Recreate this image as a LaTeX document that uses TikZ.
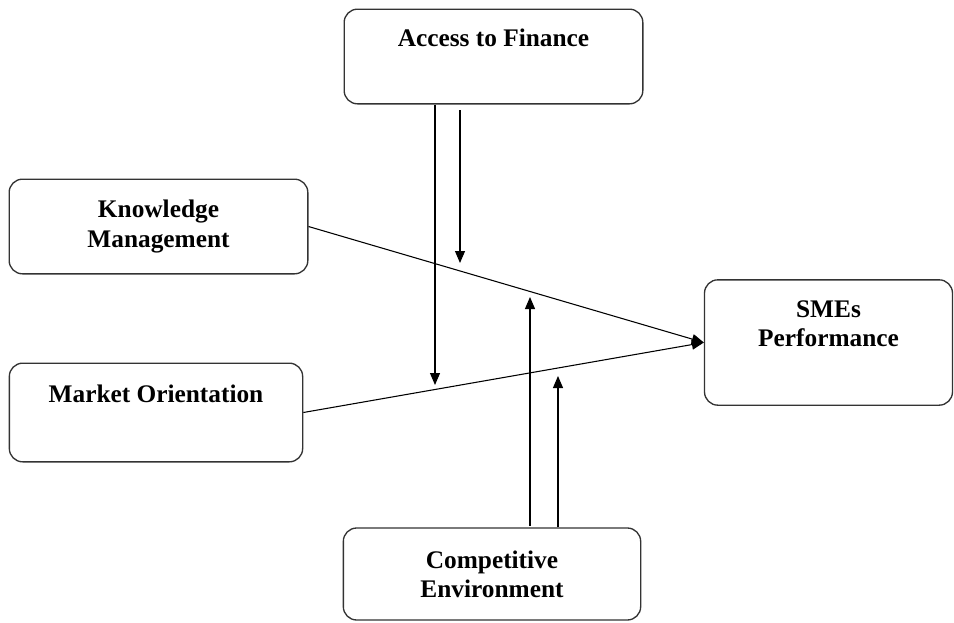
\documentclass[tikz,border=0pt]{standalone}
\usepackage{fontspec}
\setmainfont{Liberation Serif}
\usepackage{tikz}
\usetikzlibrary{arrows.meta}

\tikzset{
  box/.style={draw=black!80, line width=1pt, rounded corners=10pt, align=center,
    font=\fontsize{19}{22}\selectfont\bfseries, inner sep=0pt},
  link/.style={line width=0.8pt, -{Triangle[width=7.5pt,length=9pt]}}
}

\begin{document}
\begin{tikzpicture}[x=0.75pt,y=0.75pt,yscale=-1,xscale=1]
\useasboundingbox (0,0) rectangle (954,622);

% Boxes
\node (fin) at (493.5,56.5) [box, minimum width=224pt, minimum height=71pt] {Access to Finance\\ \strut};
\node (km) at (158.5,226.5) [box, minimum width=224pt, minimum height=71pt] {Knowledge\\Management};
\node (mo) at (156,412.5) [box, minimum width=220pt, minimum height=74pt] {Market Orientation\\ \strut};
\node (sme) at (828.5,342.5) [box, minimum width=186pt, minimum height=94pt] {SMEs\\Performance\\ \strut};
\node (comp) at (492,574) [box, minimum width=223pt, minimum height=69pt] {Competitive\\Environment};

% Main paths
\draw [link] (km.east) -- (sme.west);
\draw [link] (mo.east) -- (sme.west);

% Moderating arrows
\coordinate (d1) at (435,385);
\coordinate (d2s) at (460,110);
\coordinate (d2) at (460,263);
\coordinate (u1s) at (530,526);
\coordinate (u1) at (530,297);
\coordinate (u2) at (558,376);
\draw [link] (fin.south -| d1) -- (d1);
\draw [link] (d2s) -- (d2);
\draw [link] (u1s) -- (u1);
\draw [link] (comp.north -| u2) -- (u2);
\end{tikzpicture}
\end{document}
